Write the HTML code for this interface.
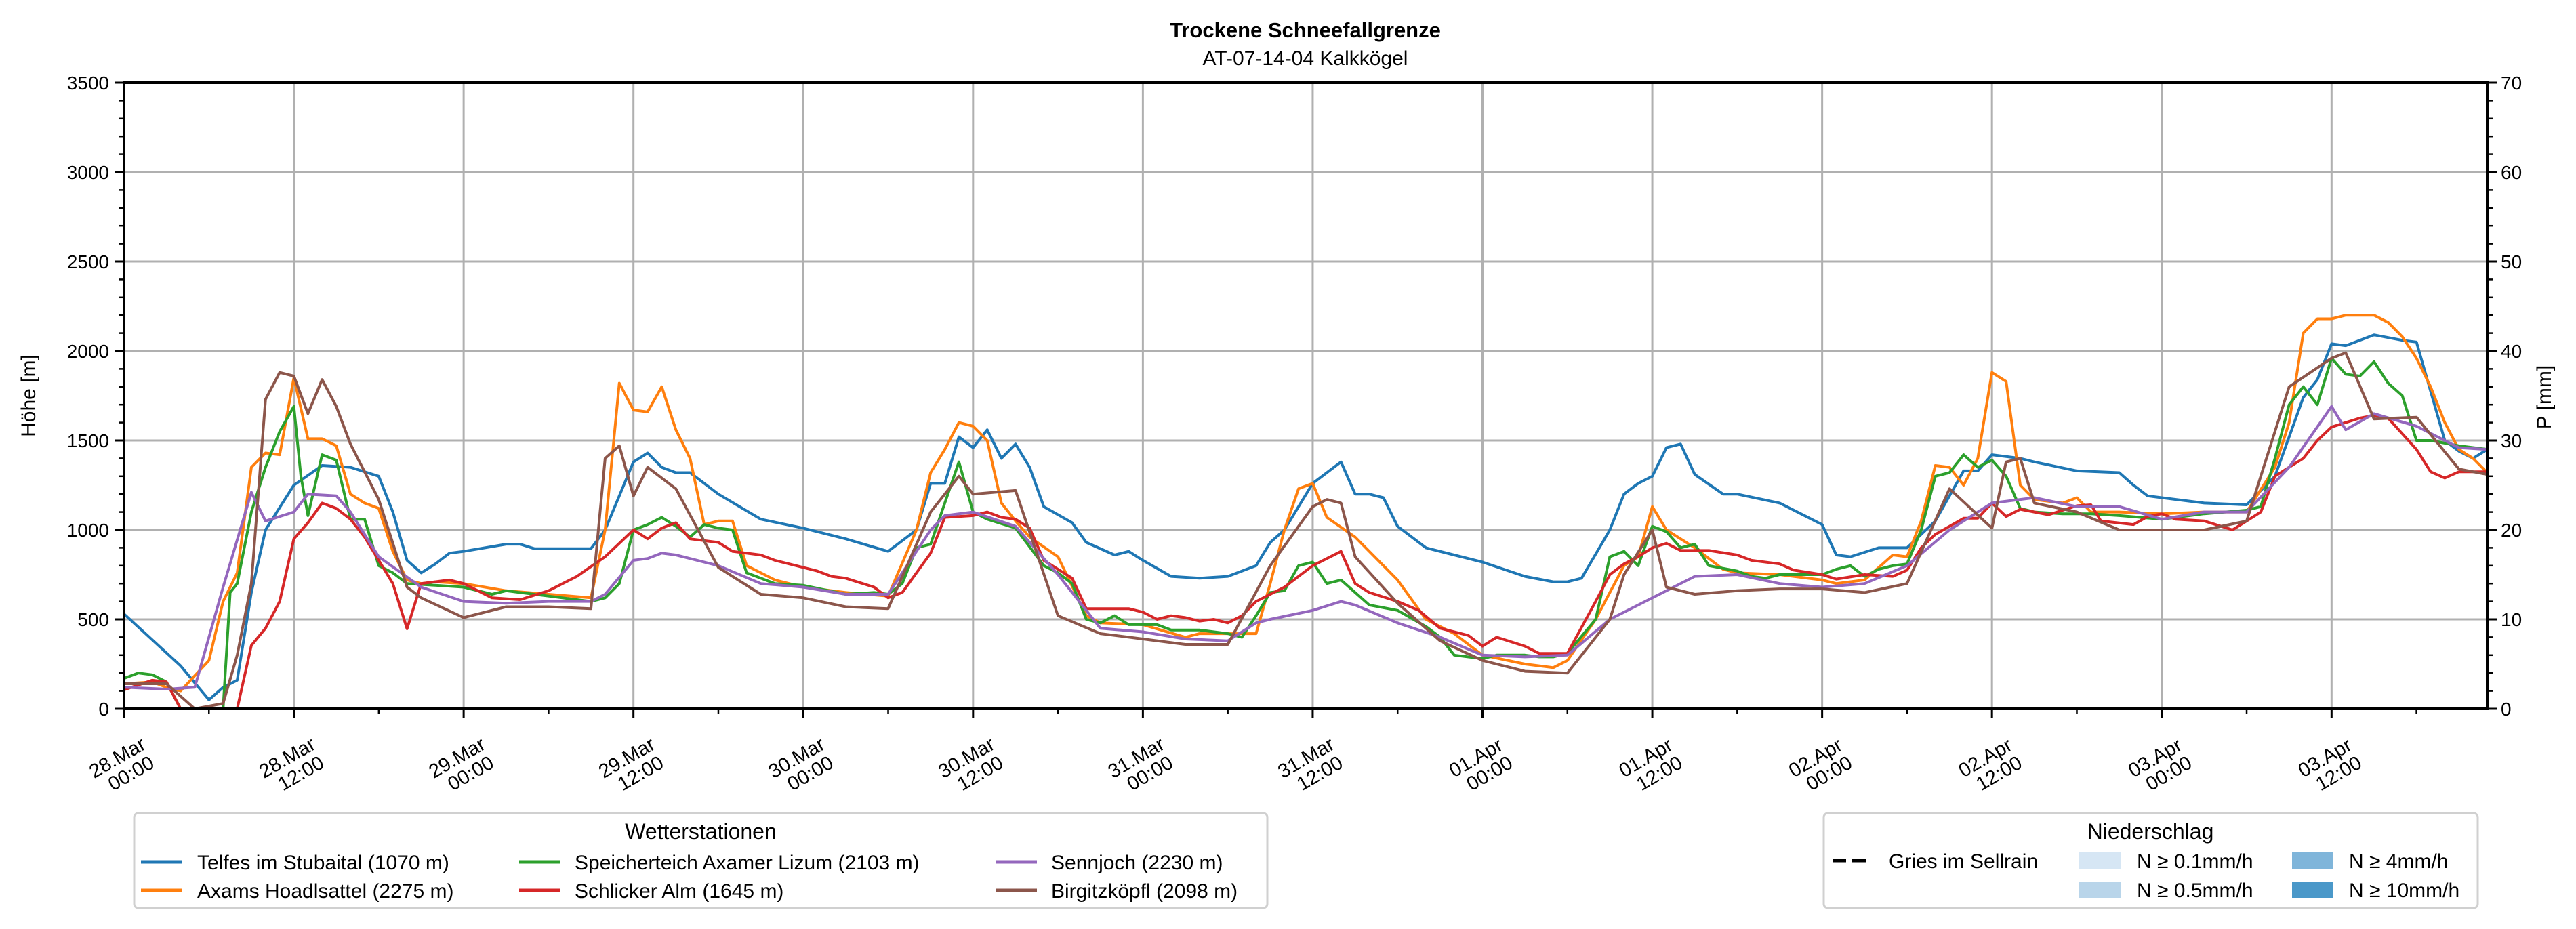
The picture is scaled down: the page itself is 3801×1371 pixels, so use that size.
<!DOCTYPE html>
<html><head><meta charset="utf-8">
<style>
html,body{margin:0;padding:0;background:#fff;}
svg{display:block;font-family:"Liberation Sans","DejaVu Sans",sans-serif;}
</style></head>
<body>
<svg id="chart" width="3801" height="1371" viewBox="0 0 3801 1371" xmlns="http://www.w3.org/2000/svg">
<rect x="0" y="0" width="3801" height="1371" fill="#fff"/>
<text x="1926" y="55" text-anchor="middle" font-size="31" font-weight="bold">Trockene Schneefallgrenze</text>
<text x="1926" y="96" text-anchor="middle" font-size="30">AT-07-14-04 Kalkkögel</text>
<g id="grid"></g>
<g id="series"></g>
<g id="axes"></g>
<text transform="translate(52,584) rotate(-90)" text-anchor="middle" font-size="30">Höhe [m]</text>
<text transform="translate(3764,586) rotate(-90)" text-anchor="middle" font-size="30">P [mm]</text>

<g>
<rect x="198" y="1200" width="1672" height="140" rx="6" fill="#fff" stroke="#d0d0d0" stroke-width="3"/>
<text x="1034" y="1238" text-anchor="middle" font-size="32">Wetterstationen</text>
<g id="stleg"></g>
</g>

<g>
<rect x="2691" y="1200" width="965" height="140" rx="6" fill="#fff" stroke="#d0d0d0" stroke-width="3"/>
<text x="3173" y="1238" text-anchor="middle" font-size="32">Niederschlag</text>
<line x1="2704" y1="1270" x2="2760" y2="1270" stroke="#000" stroke-width="5" stroke-dasharray="20,9"/>
<text x="2787" y="1281" font-size="30">Gries im Sellrain</text>
<rect x="3067" y="1258" width="63" height="24" fill="#d6e6f4"/>
<text x="3153" y="1281" font-size="30">N ≥ 0.1mm/h</text>
<rect x="3067" y="1301" width="63" height="24" fill="#b9d5ea"/>
<text x="3153" y="1324" font-size="30">N ≥ 0.5mm/h</text>
<rect x="3382" y="1258" width="61" height="24" fill="#7fb5da"/>
<text x="3466" y="1281" font-size="30">N ≥ 4mm/h</text>
<rect x="3382" y="1301" width="61" height="24" fill="#4a98c9"/>
<text x="3466" y="1324" font-size="30">N ≥ 10mm/h</text>
</g>
</svg>
<script>
// ---- data ----
const stationNames = ["Telfes im Stubaital (1070 m)","Axams Hoadlsattel (2275 m)","Speicherteich Axamer Lizum (2103 m)","Schlicker Alm (1645 m)","Sennjoch (2230 m)","Birgitzköpfl (2098 m)"];
const stationColors = ["#1f77b4","#ff7f0e","#2ca02c","#d62728","#9467bd","#8c564b"];
const xTickLabels = [["28.Mar","00:00"],["28.Mar","12:00"],["29.Mar","00:00"],["29.Mar","12:00"],["30.Mar","00:00"],["30.Mar","12:00"],["31.Mar","00:00"],["31.Mar","12:00"],["01.Apr","00:00"],["01.Apr","12:00"],["02.Apr","00:00"],["02.Apr","12:00"],["03.Apr","00:00"],["03.Apr","12:00"]];
const yTicks = [0,500,1000,1500,2000,2500,3000,3500];
const y2Ticks = [0,10,20,30,40,50,60,70];

const telfesHours = [0,4,6,7,8,9,10,12,14,16,18,19,20,21,22,23,24,27,28,29,33,34,36,37,38,39,40,42,45,48,51,54,56,57,58,59,60,61,62,63,64,65,67,68,70,71,72,74,76,78,80,81,82,84,86,87,88,89,90,92,94,96,99,101,102,103,105,106,107,108,109,110,111,113,114,117,120,121,122,124,126,128,130,131,132,134,135,138,141,142,143,144,147,150,152,154,155,156,157,159,161,162,164,165,166,167];
const telfesValues = [530,240,50,120,160,650,1000,1250,1360,1350,1300,1100,830,760,810,870,880,920,920,895,895,1000,1380,1430,1350,1320,1320,1200,1060,1010,950,880,1000,1260,1260,1520,1460,1560,1400,1480,1350,1130,1040,930,860,880,830,740,730,740,800,930,1000,1260,1380,1200,1200,1180,1020,900,860,820,740,710,710,730,1000,1200,1260,1300,1460,1480,1310,1200,1200,1150,1030,860,850,900,900,1050,1330,1330,1420,1400,1380,1330,1320,1250,1190,1180,1150,1140,1300,1740,1840,2040,2030,2090,2060,2050,1500,1440,1400,1450];

const axamsHours = [0,2,3,4,6,7,8,9,10,11,12,13,14,15,16,17,18,19,20,21,22,24,27,30,33,34,35,36,37,38,39,40,41,42,43,44,46,48,51,54,56,57,58,59,60,61,62,63,64,66,68,69,72,75,76,78,80,81,82,83,84,85,87,89,90,92,94,96,99,100,101,102,104,105,106,107,108,109,111,113,114,117,120,121,123,125,126,127,128,129,130,131,132,133,134,135,137,138,139,141,144,147,150,152,153,154,155,156,157,159,160,161,162,163,164,165,166,167];
const axamsValues = [140,150,120,100,270,600,760,1350,1430,1420,1850,1510,1510,1470,1200,1150,1120,880,720,700,710,700,660,640,620,1000,1820,1670,1660,1800,1560,1400,1030,1050,1050,800,720,680,650,630,1000,1320,1450,1600,1580,1500,1150,1050,960,850,520,480,470,400,420,420,420,700,1000,1230,1260,1070,960,800,720,500,420,300,250,240,230,270,500,650,800,850,1130,1000,900,780,760,750,720,700,720,860,850,1050,1360,1350,1250,1400,1880,1830,1250,1170,1150,1180,1100,1100,1090,1100,1100,1350,1600,2100,2180,2180,2200,2200,2160,2080,1960,1800,1600,1450,1400,1320];

const lizumHours = [0,1,2,3,4,7,7.5,8,9,10,11,12,12.5,13,14,15,16,17,18,19,20,22,24,26,27,30,33,34,35,36,37,38,39,40,41,42,43,44,45,46,48,51,53,54,55,56,57,58,59,60,61,63,65,66,67,68,69,70,71,72,73,74,76,78,79,80,81,82,83,84,85,86,87,88,90,92,93,94,96,97,99,100,101,102,104,105,106,107,108,109,110,111,112,114,115,116,117,120,121,122,123,124,125,126,127,128,129,130,131,132,133,134,135,137,139,141,144,147,150,151,152,153,154,155,156,157,158,159,160,161,162,163,165,167];
const lizumValues = [170,200,190,150,0,0,650,700,1100,1350,1550,1690,1300,1080,1420,1390,1060,1060,800,760,700,690,680,640,660,630,600,620,700,1000,1030,1070,1020,960,1030,1010,1000,760,730,700,690,640,650,640,700,900,920,1150,1380,1100,1060,1010,800,760,700,500,480,520,470,470,470,440,440,420,400,520,650,660,800,820,700,720,650,580,550,460,400,300,280,300,300,290,290,310,500,850,880,800,1020,990,900,920,800,770,740,730,750,750,780,800,740,780,800,810,1000,1300,1320,1420,1350,1390,1300,1120,1100,1090,1090,1080,1060,1090,1110,1130,1400,1700,1800,1700,1960,1870,1860,1940,1820,1750,1500,1500,1470,1450];

const schlickerHours = [0,2,3,4,8,9,10,11,12,13,14,15,16,17,19,20,21,23,24,26,28,30,31,32,34,36,37,38,39,40,42,43,45,46,48,49,50,51,53,54,55,57,58,60,61,62,63,64,65,66,67,68,71,72,73,74,75,76,77,78,79,80,82,84,86,87,88,90,91.5,93,95,96,97,99,100,102,104,105,106,107,108,109,110,112,114,115,117,118,120,121,123,125,126,127,128,130,131,132,133,134,136,138,139,139.7,142,143,144,145,147,149,150,151,152,153,154,155,156,158,159,160,162,163,164,165,167];
const schlickerValues = [106,160,150,0,0,354,450,600,950,1040,1150,1120,1060,960,700,447,700,720,700,620,610,660,700,740,850,1000,950,1010,1040,950,930,880,860,830,790,770,740,730,680,620,650,870,1070,1080,1100,1070,1060,1010,830,780,730,560,560,540,500,520,510,490,500,480,520,600,680,800,880,700,650,600,550,450,410,350,400,350,310,310,600,750,810,850,900,925,885,885,860,830,810,775,750,725,750,740,775,900,975,1065,1065,1150,1075,1115,1085,1135,1140,1050,1030,1075,1090,1060,1050,1000,1050,1100,1300,1350,1400,1500,1575,1625,1640,1625,1450,1325,1290,1325,1325];

const sennjochHours = [0,3,5,7,9,10,12,13,15,16,18,21,24,27,30,33,34,36,37,38,39,42,45,48,51,54,57,58,60,63,66,69,72,75,78,80,81,84,86,87,90,93,96,99,102,105,108,111,114,117,120,123,126,129,132,135,138,141,144,147,150,153,156,157,159,162,165,167];
const sennjochValues = [120,110,120,680,1210,1050,1100,1200,1190,1100,850,680,600,590,600,600,640,830,840,870,860,800,700,680,640,640,1000,1080,1100,1020,750,450,430,390,380,480,500,550,600,580,480,400,300,290,300,500,620,740,750,700,680,700,800,1000,1150,1180,1130,1130,1060,1100,1100,1350,1690,1560,1650,1580,1460,1450];

const birgitzHours = [0,3,5,7,8,9,10,11,12,13,14,15,16,18,20,21,24,27,30,33,34,35,36,37,39,42,45,48,51,54,57,59,60,63,66,69,72,75,78,81,84,85,86,87,90,93,96,99,102,105,106,108,109,111,114,117,120,123,126,129,132,133,134,135,138,141,144,147,150,153,156,157,159,162,165,167];
const birgitzValues = [140,140,0,30,300,700,1730,1880,1860,1650,1840,1690,1480,1170,680,620,510,570,570,560,1400,1470,1190,1350,1230,790,640,620,570,560,1100,1300,1200,1220,520,420,390,360,360,800,1130,1170,1150,850,590,380,270,210,200,500,750,1000,680,640,660,670,670,650,700,1230,1010,1380,1400,1150,1100,1000,1000,1000,1050,1800,1960,1990,1620,1630,1340,1310];

const seriesHours = [telfesHours,axamsHours,lizumHours,schlickerHours,sennjochHours,birgitzHours];
const seriesValues = [telfesValues,axamsValues,lizumValues,schlickerValues,sennjochValues,birgitzValues];

// ---- layout ----
const X0=183, X1=3670, Y0=1046, Y1=122, HMAX=167, VMAX=3500;
function xs(h){return X0+(X1-X0)*h/HMAX;}
function ys(v){return Y0-(Y0-Y1)*v/VMAX;}
const NS="http://www.w3.org/2000/svg";
function mk(tag,attrs,parent){const e=document.createElementNS(NS,tag);for(const k in attrs)e.setAttribute(k,attrs[k]);parent.appendChild(e);return e;}
const grid=document.getElementById('grid'), axes=document.getElementById('axes'), series=document.getElementById('series'), stleg=document.getElementById('stleg');

xTickLabels.forEach((lab,i)=>{
  const x=xs(i*12);
  const g=mk('line',{x1:x,y1:Y1,x2:x,y2:Y0,stroke:'#b0b0b0','stroke-width':3},grid);
  
  
  const t=mk('line',{x1:x,y1:Y0,x2:x,y2:Y0+14,stroke:'#000','stroke-width':3},axes);
  
  
  const tg=mk('g',{transform:`translate(${x-10},1118) rotate(-30)`,'font-size':29,'text-anchor':'middle'},axes);
  
  
  const t1=mk('text',{x:0,y:10},tg); t1.textContent=lab[0];
  const t2=mk('text',{x:6,y:40},tg); t2.textContent=lab[1];
});
for(let h=6;h<HMAX;h+=12){
  const x=xs(h);
  const m=mk('line',{x1:x,y1:Y0,x2:x,y2:Y0+8,stroke:'#000','stroke-width':2.5},axes);
  
  
}
yTicks.forEach(v=>{
  const y=ys(v);
  if(v>0&&v<VMAX){
    const g=mk('line',{x1:X0,y1:y,x2:X1,y2:y,stroke:'#b0b0b0','stroke-width':3},grid);
    
    
  }
  const t=mk('line',{x1:X0-14,y1:y,x2:X0,y2:y,stroke:'#000','stroke-width':3},axes);
  
  
  const l=mk('text',{x:X0-22,y:y+10,'text-anchor':'end','font-size':28},axes);
  
  
  l.textContent=v;
});
y2Ticks.forEach(v=>{
  const y=ys(v*50);
  const t=mk('line',{x1:X1,y1:y,x2:X1+14,y2:y,stroke:'#000','stroke-width':3},axes);
  
  
  const l=mk('text',{x:X1+20,y:y+10,'font-size':28},axes);
  
  
  l.textContent=v;
});
for(let v=100;v<VMAX;v+=100){
  if(v%500===0)continue;
  const y=ys(v);
  const a=mk('line',{x1:X0-8,y1:y,x2:X0,y2:y,stroke:'#000','stroke-width':2.5},axes);
  
  
  const b=mk('line',{x1:X1,y1:y,x2:X1+8,y2:y,stroke:'#000','stroke-width':2.5},axes);
  
  
}
const frame=mk('rect',{x:X0,y:Y1,width:X1-X0,height:Y0-Y1,fill:'none',stroke:'#000','stroke-width':4},axes);



const clip=mk('clipPath',{id:'pc'},series);
mk('rect',{x:X0,y:Y1,width:X1-X0,height:Y0-Y1},clip);
seriesHours.forEach((hrs,i)=>{
  const vals=seriesValues[i];
  const pts=hrs.map((h,j)=>xs(h).toFixed(1)+','+ys(vals[j]).toFixed(1)).join(' ');
  const p=mk('polyline',{points:pts,fill:'none',stroke:stationColors[i],'stroke-width':4,'stroke-linejoin':'round','clip-path':'url(#pc)'},series);
  
  
});

const legCols=[[208,291],[766,848],[1469,1551]];
const legRows=[1272,1314];
const legOrder=[0,1,2,3,4,5];
legOrder.forEach((si,k)=>{
  const col=Math.floor(k/2), row=k%2;
  const y=legRows[row];
  const g=mk('g',{},stleg);
  
  
  mk('line',{x1:legCols[col][0],y1:y,x2:legCols[col][0]+61,y2:y,stroke:stationColors[si],'stroke-width':5},g);
  const t=mk('text',{x:legCols[col][1],y:y+11,'font-size':30},g);
  t.textContent=stationNames[si];
});
</script>
</body></html>
